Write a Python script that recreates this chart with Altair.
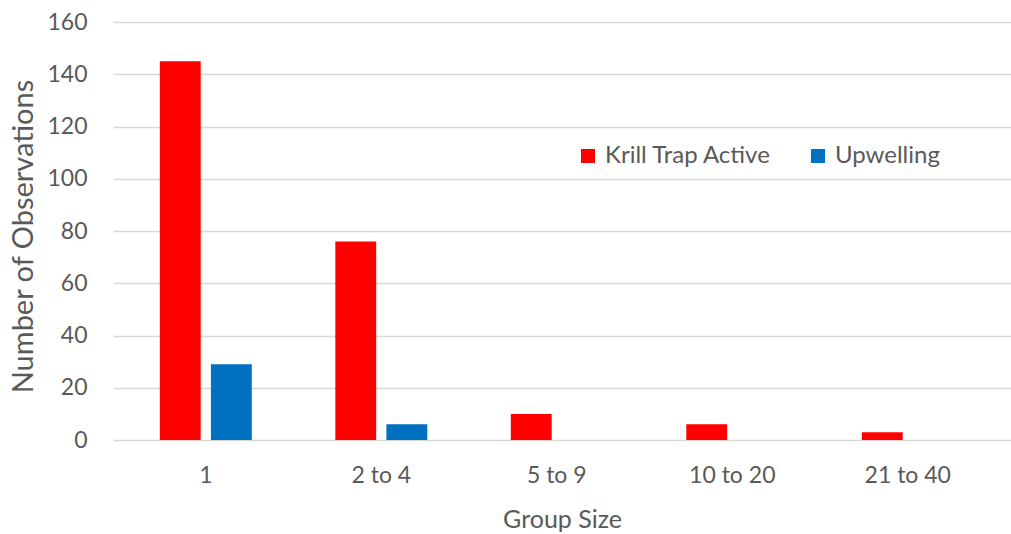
import altair as alt
import pandas as pd

# Observation counts per group-size class
group_sizes = ["1", "2 to 4", "5 to 9", "10 to 20", "21 to 40"]
krill_trap_active = [145, 76, 10, 6, 3]
upwelling = [29, 6, 0, 0, 0]

series_names = ["Krill Trap Active", "Upwelling"]
series_colors = ["#FF0000", "#0070C0"]

rows = []
for g, k, u in zip(group_sizes, krill_trap_active, upwelling):
    rows.append({"group": g, "series": series_names[0], "count": k})
    rows.append({"group": g, "series": series_names[1], "count": u})
df = pd.DataFrame(rows)

FONT = "Lato"
TEXT = "#595959"

chart = (
    alt.Chart(df)
    .mark_bar()
    .encode(
        x=alt.X(
            "group:N",
            sort=group_sizes,
            scale=alt.Scale(paddingInner=0.476, paddingOuter=0.2965, align=0.45),
            axis=alt.Axis(
                title="Group Size",
                labelAngle=0,
                domain=False,
                ticks=False,
                labelPadding=24,
                titleFontSize=25,
                titleY=87,
                titleBaseline="alphabetic",
            ),
        ),
        xOffset=alt.XOffset(
            "series:N",
            sort=series_names,
            scale=alt.Scale(paddingInner=0.2, paddingOuter=0),
        ),
        y=alt.Y(
            "count:Q",
            scale=alt.Scale(domain=[0, 160], nice=False),
            axis=alt.Axis(
                title="Number of Observations",
                values=list(range(0, 161, 20)),
                domain=False,
                ticks=False,
                labelPadding=26,
                gridColor="#D9D9D9",
                gridWidth=1.5,
                titleFontSize=29,
                titleX=-90,
                titleY=214,
                titleAngle=270,
                titleAlign="center",
                titleBaseline="middle",
            ),
        ),
        color=alt.Color(
            "series:N",
            sort=series_names,
            scale=alt.Scale(domain=series_names, range=series_colors),
            legend=alt.Legend(
                title=None,
                orient="none",
                legendX=463,
                legendY=122,
                direction="horizontal",
                symbolType="square",
                symbolSize=196,
                symbolStrokeWidth=0,
                labelOffset=5,
                columnPadding=34,
                labelFontSize=24,
                labelLimit=400,
            ),
        ),
    )
    .properties(
        width=898,
        height=418,
        autosize=alt.AutoSizeParams(type="none"),
        padding={"left": 113, "top": 22, "right": 0, "bottom": 94},
    )
    .configure_view(stroke=None)
    .configure_axis(
        labelFont=FONT,
        titleFont=FONT,
        labelFontSize=23,
        labelColor=TEXT,
        titleColor=TEXT,
        titleFontWeight="normal",
    )
    .configure_legend(labelFont=FONT, labelColor=TEXT)
)

chart.save("out.html", embed_options={"renderer": "svg", "actions": False})
